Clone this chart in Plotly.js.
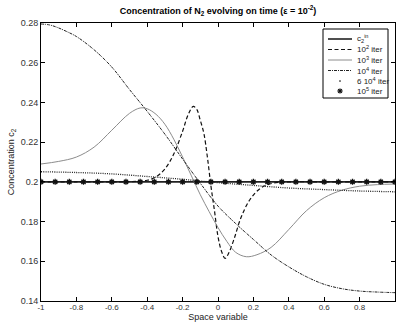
<!DOCTYPE html>
<html>
<head>
<meta charset="utf-8">
<script src="https://cdn.plot.ly/plotly-3.0.1.min.js"></script>
<style>html,body{margin:0;padding:0;background:#fff;}#chart{width:396px;height:323px;}</style>
</head>
<body>
<div id="chart"></div>
<script>
// ---- data ----
var cinX = [-1, 1];
var cinY = [0.2, 0.2];

var it2X = [-1, -0.8, -0.6, -0.5, -0.45, -0.4, -0.35, -0.3, -0.25, -0.2, -0.17, -0.14, -0.12, -0.1, -0.08, -0.06, -0.04, -0.02, 0, 0.02, 0.04, 0.06, 0.09, 0.13, 0.18, 0.24, 0.31, 0.4, 0.6, 1];
var it2Y = [0.2, 0.2, 0.2, 0.2001, 0.2003, 0.2008, 0.2025, 0.2065, 0.2140, 0.2255, 0.2335, 0.2380, 0.2365, 0.2310, 0.2245, 0.2125, 0.1980, 0.1855, 0.1725, 0.1650, 0.1615, 0.1640, 0.1710, 0.1820, 0.1910, 0.1968, 0.1993, 0.2, 0.2, 0.2];

var it3X = [-1, -0.9, -0.8, -0.7, -0.6, -0.5, -0.44, -0.4, -0.35, -0.3, -0.25, -0.2, -0.15, -0.1, -0.05, 0, 0.05, 0.1, 0.16, 0.22, 0.3, 0.4, 0.5, 0.6, 0.7, 0.8, 0.9, 1];
var it3Y = [0.2090, 0.2103, 0.2125, 0.2175, 0.2260, 0.2345, 0.2372, 0.2368, 0.2340, 0.2290, 0.2215, 0.2125, 0.2030, 0.1935, 0.1850, 0.1770, 0.1700, 0.1645, 0.1623, 0.1633, 0.1670, 0.1760, 0.1855, 0.1920, 0.1958, 0.1978, 0.1986, 0.1989];

var it4X = [-1, -0.95, -0.9, -0.85, -0.8, -0.7, -0.6, -0.5, -0.4, -0.3, -0.2, -0.1, 0, 0.1, 0.2, 0.3, 0.4, 0.5, 0.6, 0.7, 0.8, 0.9, 1];
var it4Y = [0.2795, 0.2790, 0.2775, 0.2755, 0.2732, 0.2665, 0.2578, 0.2465, 0.2355, 0.2240, 0.2115, 0.1993, 0.1878, 0.1790, 0.1710, 0.1632, 0.1572, 0.1522, 0.1484, 0.1462, 0.1450, 0.1445, 0.1442];

var it6X = [-1, -0.8, -0.6, -0.4, -0.2, 0, 0.2, 0.4, 0.6, 0.8, 1];
var it6Y = [0.2051, 0.2047, 0.2040, 0.2027, 0.2013, 0.1996, 0.1982, 0.1969, 0.1961, 0.1954, 0.1950];

var it5X = [-1, -0.92, -0.84, -0.76, -0.68, -0.6, -0.52, -0.44, -0.36, -0.28, -0.2, -0.12, -0.04, 0.04, 0.12, 0.2, 0.28, 0.36, 0.44, 0.52, 0.6, 0.68, 0.76, 0.84, 0.92, 1];
var it5Y = [0.2, 0.2, 0.2, 0.2, 0.2, 0.2, 0.2, 0.2, 0.2, 0.2, 0.2, 0.2, 0.2, 0.2, 0.2, 0.2, 0.2, 0.2, 0.2, 0.2, 0.2, 0.2, 0.2, 0.2, 0.2, 0.2];

var seriesNames = ['c<sub>2</sub><sup>in</sup>', '10<sup>2</sup> iter', '10<sup>3</sup> iter', '10<sup>4</sup> iter', '6 10<sup>4</sup> iter', '10<sup>5</sup> iter'];

var xTicks = [-1, -0.8, -0.6, -0.4, -0.2, 0, 0.2, 0.4, 0.6, 0.8, 1];
var xTickLabels = ['-1', '-0.8', '-0.6', '-0.4', '-0.2', '0', '0.2', '0.4', '0.6', '0.8', '1'];
var yTicks = [0.14, 0.16, 0.18, 0.2, 0.22, 0.24, 0.26, 0.28];
var yTickLabels = ['0.14', '0.16', '0.18', '0.2', '0.22', '0.24', '0.26', '0.28'];

// ---- styles ----
var FONT = 'Liberation Sans, Arial, Helvetica, sans-serif';
var traces = [
  {x: cinX, y: cinY, mode: 'lines', name: seriesNames[0], line: {color: '#222', width: 1.6}},
  {x: it2X, y: it2Y, mode: 'lines', name: seriesNames[1], line: {color: '#111', width: 1.2, dash: '4px,2.5px', shape: 'spline'}},
  {x: it3X, y: it3Y, mode: 'lines', name: seriesNames[2], line: {color: '#8c8c8c', width: 1, shape: 'spline'}},
  {x: it4X, y: it4Y, mode: 'lines', name: seriesNames[3], line: {color: '#222', width: 1, dash: '3px,1px,1px,1px', shape: 'spline'}},
  {x: it6X, y: it6Y, mode: 'lines', name: seriesNames[4], line: {color: '#222', width: 1.3, dash: '1px,1.2px', shape: 'spline'}},
  {x: it5X, y: it5Y, mode: 'markers', name: seriesNames[5], marker: {symbol: 'asterisk-open', size: 5, color: '#111', line: {color: '#111', width: 1.3}}}
];

// manual compact legend (box in paper coords)
function px2x(p) { return (p - 41) / 354; }
function px2y(p) { return (301 - p) / 278; }
var rowsPx = [39, 49.5, 60, 70.5, 81, 91];
var shapes = [{type: 'rect', xref: 'paper', yref: 'paper', x0: px2x(323), x1: px2x(388), y0: px2y(98), y1: px2y(29),
  line: {color: '#000', width: 1}, fillcolor: '#fff', layer: 'above'}];
var annotations = [];
var lx0 = px2x(328), lx1 = px2x(352);
var lineStyles = [traces[0].line, traces[1].line, traces[2].line, traces[3].line];
for (var i = 0; i < 4; i++) {
  shapes.push({type: 'line', xref: 'paper', yref: 'paper', x0: lx0, x1: lx1, y0: px2y(rowsPx[i]), y1: px2y(rowsPx[i]),
    line: {color: lineStyles[i].color, width: lineStyles[i].width, dash: lineStyles[i].dash || 'solid'}, layer: 'above'});
}
// dot sample
shapes.push({type: 'circle', xref: 'paper', yref: 'paper', x0: px2x(339.4), x1: px2x(340.6), y0: px2y(rowsPx[4] + 0.6), y1: px2y(rowsPx[4] - 0.6),
  line: {color: '#222', width: 0.5}, fillcolor: '#222', layer: 'above'});
// asterisk sample
var ay = rowsPx[5], r = 2.6;
[[0, 1], [1, 0], [0.707, 0.707], [0.707, -0.707]].forEach(function (d) {
  shapes.push({type: 'line', xref: 'paper', yref: 'paper', x0: px2x(340 - r * d[0]), x1: px2x(340 + r * d[0]),
    y0: px2y(ay - r * d[1]), y1: px2y(ay + r * d[1]), line: {color: '#111', width: 1.3}, layer: 'above'});
});
for (var j = 0; j < seriesNames.length; j++) {
  annotations.push({xref: 'paper', yref: 'paper', x: px2x(355), y: px2y(rowsPx[j]), xanchor: 'left', yanchor: 'middle',
    text: seriesNames[j], showarrow: false, font: {family: FONT, size: 8, color: '#222'}});
}

var axisCommon = {showgrid: false, zeroline: false, showline: true, linecolor: '#000', linewidth: 1, mirror: 'ticks',
  ticks: 'inside', ticklen: 4, tickcolor: '#000', tickwidth: 1, tickfont: {family: FONT, size: 9, color: '#333'}};

var layout = {
  width: 396, height: 323,
  margin: {l: 41, r: 1, t: 23, b: 22},
  paper_bgcolor: '#fff', plot_bgcolor: '#fff',
  showlegend: false,
  font: {family: FONT, color: '#222'},
  title: {text: '<b>Concentration of N<sub>2</sub> evolving on time (\u03b5 = 10<sup>-2</sup>)</b>', xref: 'paper', x: 0.5, xanchor: 'center',
    yref: 'container', y: 1 - 11 / 323, yanchor: 'middle', font: {family: FONT, size: 9, color: '#000'}},
  xaxis: Object.assign({}, axisCommon, {range: [-1, 1], tickvals: xTicks, ticktext: xTickLabels,
    tickfont: {family: FONT, size: 8, color: '#333'}, ticklabelstandoff: -2,
    title: {text: 'Space variable', font: {family: FONT, size: 9, color: '#222'}, standoff: 3}}),
  yaxis: Object.assign({}, axisCommon, {range: [0.14, 0.28], tickvals: yTicks, ticktext: yTickLabels,
    title: {text: 'Concentration c<sub>2</sub>', font: {family: FONT, size: 9, color: '#222'}, standoff: 4}}),
  shapes: shapes,
  annotations: annotations
};

Plotly.newPlot('chart', traces, layout, {displayModeBar: false, staticPlot: true});
</script>
</body>
</html>
